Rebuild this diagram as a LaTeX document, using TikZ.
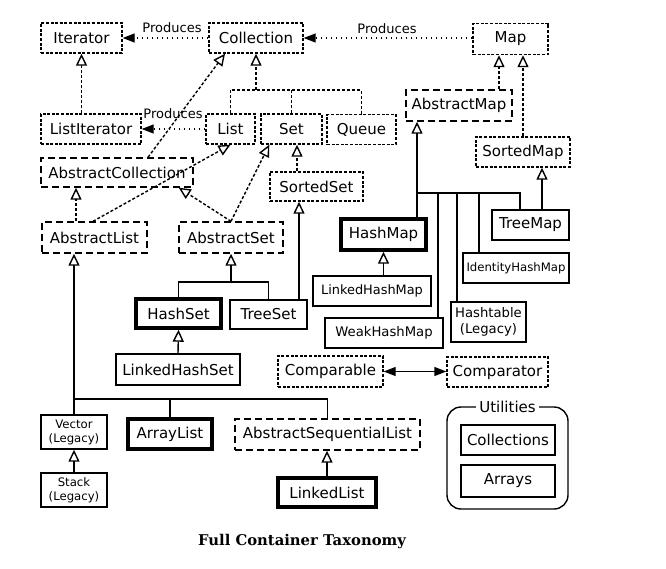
\documentclass[tikz,border=0pt]{standalone}
\usepackage{fontspec}
\setmainfont{DejaVu Sans}
\newfontfamily\capfont{DejaVu Serif}
\usetikzlibrary{arrows.meta,calc}
\begin{document}
\begin{tikzpicture}[x=1pt,y=-1pt,
  base/.style={draw, line width=1.4pt, inner sep=0pt, align=center, font=\fontsize{15}{16}\selectfont},
  iface/.style={base, dash pattern=on 3pt off 1.6pt},
  abst/.style={base, dash pattern=on 7pt off 4pt},
  conc/.style={base},
  thickbox/.style={base, line width=3.4pt},
  smalltext/.style={font=\fontsize{11.7}{14}\selectfont},
  midtext/.style={font=\fontsize{13.2}{16}\selectfont},
  lbl/.style={inner sep=0pt, font=\fontsize{13}{15}\selectfont},
  ifline/.style={line width=1.4pt, dash pattern=on 3pt off 2pt},
  cline/.style={line width=1.4pt},
  inh/.style={-{Triangle[open,length=12pt,width=11pt]}},
  prod/.style={line width=1.4pt, dash pattern=on 1.5pt off 3.5pt, -{Triangle[length=12pt,width=9pt]}},
  both/.style={{Triangle[length=12pt,width=9pt]}-{Triangle[length=12pt,width=9pt]}}
]
\useasboundingbox (0,0) rectangle (666,568);

% interfaces
\node[iface,minimum width=81pt,minimum height=30pt] (it) at (81.5,38) {Iterator};
\node[iface,minimum width=94pt,minimum height=30pt] (coll) at (256,38) {Collection};
\node[iface,minimum width=75pt,minimum height=31pt] (map) at (510.5,39) {Map};
\node[iface,minimum width=100pt,minimum height=30pt] (lit) at (91,129) {ListIterator};
\node[iface,minimum width=49pt,minimum height=30pt] (list) at (230.5,129) {List};
\node[iface,minimum width=61pt,minimum height=30pt] (set) at (291.5,129) {Set};
\node[iface,minimum width=69pt,minimum height=30pt] (queue) at (361.5,129.5) {Queue};
\node[iface,minimum width=93pt,minimum height=29pt] (ss) at (316.5,186.5) {SortedSet};
\node[iface,minimum width=94pt,minimum height=30pt] (sm) at (523,152) {SortedMap};
\node[iface,minimum width=105pt,minimum height=31pt] (cmp) at (330.5,371.5) {Comparable};
\node[iface,minimum width=101pt,minimum height=30pt] (cmt) at (497.5,372) {Comparator};

% abstract classes
\node[abst,minimum width=152pt,minimum height=29pt] (ac) at (117,172.5) {AbstractCollection};
\node[abst,minimum width=106pt,minimum height=31pt] (am) at (459,105.5) {AbstractMap};
\node[abst,minimum width=105pt,minimum height=31pt] (al) at (94.5,237.5) {AbstractList};
\node[abst,minimum width=104pt,minimum height=31pt] (as) at (231,237.5) {AbstractSet};
\node[abst,minimum width=185pt,minimum height=31pt] (asl) at (327.5,434.5) {AbstractSequentialList};

% concrete classes
\node[thickbox,minimum width=85pt,minimum height=31pt] (hm) at (383.5,234.5) {HashMap};
\node[conc,minimum width=77pt,minimum height=30pt] (tm) at (530.5,225) {TreeMap};
\node[conc,smalltext,minimum width=106pt,minimum height=30pt] (ihm) at (516,268) {IdentityHashMap};
\node[conc,font=\fontsize{12.9}{15}\selectfont,minimum width=118pt,minimum height=30pt] (lhm) at (372,291) {LinkedHashMap};
\node[conc,midtext,minimum width=75pt,minimum height=40pt] (ht) at (488.5,322) {Hashtable\\(Legacy)};
\node[conc,midtext,minimum width=118pt,minimum height=30pt] (whm) at (384,333) {WeakHashMap};
\node[thickbox,minimum width=85pt,minimum height=29pt] (hs) at (178.5,313.5) {HashSet};
\node[conc,minimum width=77pt,minimum height=29pt] (ts) at (268.5,314.5) {TreeSet};
\node[conc,minimum width=124pt,minimum height=31pt] (lhs) at (178,369.5) {LinkedHashSet};
\node[conc,smalltext,minimum width=66pt,minimum height=34pt] (vec) at (74,432) {Vector\\(Legacy)};
\node[conc,smalltext,minimum width=66pt,minimum height=34pt] (stk) at (74,490) {Stack\\(Legacy)};
\node[thickbox,minimum width=84pt,minimum height=30pt] (arl) at (170,434) {ArrayList};
\node[thickbox,minimum width=98pt,minimum height=29pt] (ll) at (327,492.5) {LinkedList};

% utilities
\node[draw,line width=1.4pt,rounded corners=14pt,minimum width=121pt,minimum height=102pt,inner sep=0pt] (ut) at (507.5,458) {};
\node[fill=white,inner xsep=3pt,inner ysep=1pt,font=\fontsize{15}{16}\selectfont] (utl) at (507.5,407) {Utilities};
\node[conc,minimum width=94pt,minimum height=30pt] (colls) at (508,440) {Collections};
\node[conc,minimum width=94pt,minimum height=32pt] (arrs) at (508,481) {Arrays};

% caption
\node[inner sep=0pt,font=\capfont\bfseries\fontsize{14.8}{17}\selectfont] (cap) at (302,542) {Full Container Taxonomy};

% produces
\draw[prod] (coll.west) -- (it.east);
\draw[prod] (list.west) -- (lit.east);
\draw[prod] (map.west |- coll.east) -- (coll.east);
\node[lbl] (p1) at (172,28) {Produces};
\node[lbl] (p2) at (173,114) {Produces};
\node[lbl] (p3) at (387,28.5) {Produces};

% interface inheritance
\draw[ifline,inh] (lit.north -| it.south) -- (it.south);
\coordinate (cb) at (256,90);
\draw[ifline] (list.north) |- (cb) -| (queue.north);
\draw[ifline] (set.north) -- (set.north |- cb);
\draw[ifline,inh] (cb) -- (coll.south);
\draw[ifline,inh] ([xshift=31pt]ac.north) -- ([xshift=-31pt]coll.south);
\draw[ifline,inh] ([xshift=-1.5pt]al.north) -- (list.south);
\coordinate (xa) at (76,0);
\draw[ifline,inh] (xa |- al.north) -- (xa |- ac.south);
\draw[ifline,inh] (as.north) -- ([xshift=-15pt]ac.south east);
\draw[ifline,inh] (as.north) -- ([xshift=9pt]set.south west);
\coordinate (xb) at (297,0);
\draw[ifline,inh] (xb |- ss.north) -- (xb |- set.south);
\coordinate (xc) at (499,0);
\draw[ifline,inh] (xc |- am.north) -- (xc |- map.south);
\draw[ifline,inh] (sm.north) -- (sm.north |- map.south);

% sets
\coordinate (sb) at (231,282);
\draw[cline] (hs.north) |- (sb) -| (ts.north);
\draw[cline,inh] (sb) -- (as.south);
\coordinate (xd) at (299,0);
\draw[cline,inh] (xd |- ts.north) -- (xd |- ss.south);
\draw[cline,inh] (lhs.north) -- (hs.south);

% maps
\coordinate (mb) at (417,193);
\coordinate (xe) at (520,0);
\coordinate (xf) at (438,0);
\coordinate (xg) at (457,0);
\coordinate (xh) at (479,0);
\draw[cline,inh] (mb) -- (mb |- am.south);
\draw[cline] (mb |- hm.north) -- (mb) -- (xe |- mb) -- (xe |- tm.north);
\draw[cline] (xf |- mb) -- (xf |- whm.north);
\draw[cline] (xg |- mb) -- (xg |- ht.north);
\draw[cline] (xh |- mb) -- (xh |- ihm.north);
\coordinate (xi) at (542,0);
\draw[cline,inh] (xi |- tm.north) -- (xi |- sm.south);
\draw[cline,inh] (hm.south |- lhm.north) -- (hm.south);

% comparable
\draw[cline,both] (cmp.east) -- (cmp.east -| cmt.west);

% lists
\coordinate (lb) at (74,399);
\draw[cline,inh] (vec.north) -- (vec.north |- al.south);
\draw[cline] (lb) -| (asl.north);
\draw[cline] (arl.north |- lb) -- (arl.north);
\draw[cline,inh] (stk.north) -- (vec.south);
\draw[cline,inh] (ll.north) -- (ll.north |- asl.south);
\end{tikzpicture}
\end{document}
